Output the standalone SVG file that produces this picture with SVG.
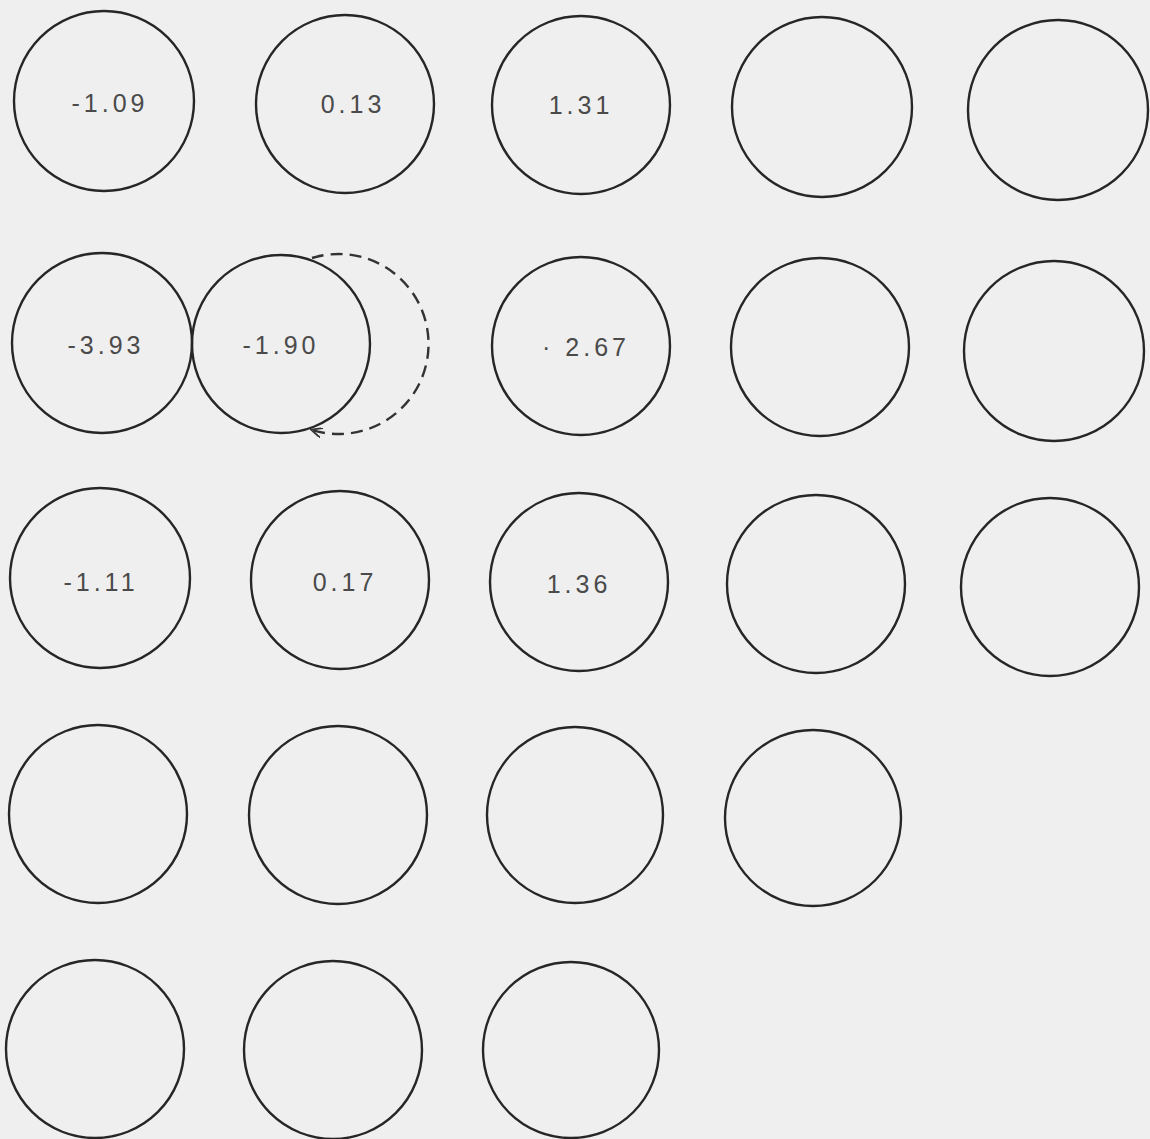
<svg xmlns="http://www.w3.org/2000/svg" width="1150" height="1139" viewBox="0 0 1150 1139">
<style>
.c{fill:none;stroke:#262626;stroke-width:2.4}
.t{font-family:"Liberation Sans",Arial,sans-serif;font-size:25px;fill:#4a4a4a;text-anchor:middle;letter-spacing:4px}
.d{fill:none;stroke:#333;stroke-width:2.4;stroke-dasharray:12 7}
</style>
<defs>
<marker id="ah" markerWidth="12" markerHeight="10" refX="10" refY="5" orient="auto" markerUnits="userSpaceOnUse">
<path d="M0,0 L11,5 L0,10" fill="none" stroke="#333" stroke-width="1.8"/>
</marker>
</defs>
<rect width="1150" height="1139" fill="#efefef"/>
<g id="n1"><circle class="c" cx="104" cy="101" r="90"/><text class="t" x="110" y="112">-1.09</text></g>
<g id="n2"><circle class="c" cx="345" cy="104" r="89"/><text class="t" x="353" y="113">0.13</text></g>
<g id="n3"><circle class="c" cx="581" cy="105" r="89"/><text class="t" x="581" y="114">1.31</text></g>
<g id="n4"><circle class="c" cx="822" cy="107" r="90"/></g>
<g id="n5"><circle class="c" cx="1058" cy="110" r="90"/></g>
<g id="n6"><circle class="c" cx="102" cy="343" r="90"/><text class="t" x="106" y="354">-3.93</text></g>
<g id="n7"><circle class="c" cx="281" cy="344" r="89"/><text class="t" x="281" y="354">-1.90</text></g>
<g id="n8"><circle class="c" cx="581" cy="346" r="89"/><text class="t" x="586" y="356">· 2.67</text></g>
<g id="n9"><circle class="c" cx="820" cy="347" r="89"/></g>
<g id="n10"><circle class="c" cx="1054" cy="351" r="90"/></g>
<g id="n11"><circle class="c" cx="100" cy="578" r="90"/><text class="t" x="101" y="591">-1.11</text></g>
<g id="n12"><circle class="c" cx="340" cy="580" r="89"/><text class="t" x="345" y="591">0.17</text></g>
<g id="n13"><circle class="c" cx="579" cy="582" r="89"/><text class="t" x="579" y="593">1.36</text></g>
<g id="n14"><circle class="c" cx="816" cy="584" r="89"/></g>
<g id="n15"><circle class="c" cx="1050" cy="587" r="89"/></g>
<g id="n16"><circle class="c" cx="98" cy="814" r="89"/></g>
<g id="n17"><circle class="c" cx="338" cy="815" r="89"/></g>
<g id="n18"><circle class="c" cx="575" cy="815" r="88"/></g>
<g id="n19"><circle class="c" cx="813" cy="818" r="88"/></g>
<g id="n20"><circle class="c" cx="95" cy="1049" r="89"/></g>
<g id="n21"><circle class="c" cx="333" cy="1050" r="89"/></g>
<g id="n22"><circle class="c" cx="571" cy="1050" r="88"/></g>
<g id="connectors">
<path class="d" d="M312,258 A90,90 0 1 1 312,430" marker-end="url(#ah)"/>
</g>
</svg>
